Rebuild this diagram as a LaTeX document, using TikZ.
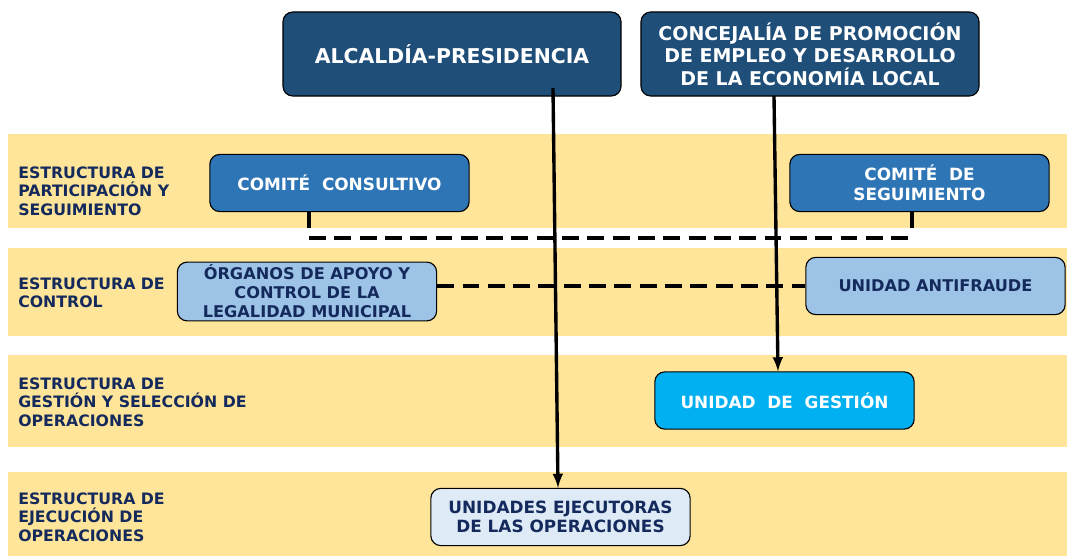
\documentclass[tikz,border=0pt]{standalone}
\usepackage{fontspec}
\setmainfont{DejaVu Sans}
\usetikzlibrary{arrows}
\definecolor{bandyellow}{HTML}{FFE599}
\definecolor{navybox}{HTML}{1F4E79}
\definecolor{midblue}{HTML}{2E75B6}
\definecolor{lightblue}{HTML}{9DC3E6}
\definecolor{cyanbox}{HTML}{00B0F0}
\definecolor{paleblue}{HTML}{DEEBF7}
\definecolor{navytext}{HTML}{152A5C}
\tikzset{box/.style={draw, thick, rounded corners=7pt, align=center, inner sep=2pt, font=\bfseries\fontsize{11.5}{13.5}\selectfont}}
\tikzset{topbox/.style={box, fill=navybox, text=white, minimum width=8.45cm, minimum height=2.1cm, font=\bfseries\fontsize{13.5}{16}\selectfont}}
\tikzset{unitbox/.style={box, minimum width=6.48cm, minimum height=1.43cm}}
\tikzset{bandlabel/.style={anchor=west, align=left, inner sep=0pt, text=navytext, font=\bfseries\fontsize{11.2}{13}\selectfont}}
\tikzset{dashline/.style={line width=3pt, dash pattern=on 12pt off 6pt}}

\begin{document}
\begin{tikzpicture}[x=0.025cm,y=-0.025cm]
  \useasboundingbox (0,0) rectangle (1067,556);
  \foreach \top/\bot in {
    134/228,
    248/336,
    355/447,
    472/556%
  } {
    \fill[bandyellow] (8,\top) rectangle (1067,\bot);
  }
  \node[bandlabel] (labpart) at (18,191) {ESTRUCTURA DE\\PARTICIPACIÓN Y\\SEGUIMIENTO};
  \node[bandlabel] (labcontrol) at (18,293) {ESTRUCTURA DE\\CONTROL};
  \node[bandlabel] (labgestion) at (18,402) {ESTRUCTURA DE\\GESTIÓN Y SELECCIÓN DE\\OPERACIONES};
  \node[bandlabel] (labejec) at (18,517) {ESTRUCTURA DE\\EJECUCIÓN DE\\OPERACIONES};

  \node[topbox, font=\bfseries\fontsize{14.5}{16}\selectfont] (alcaldia) at (452,54) {ALCALDÍA-PRESIDENCIA};
  \node[topbox] (concejalia) at (810,54) {CONCEJALÍA DE PROMOCIÓN\\DE EMPLEO Y DESARROLLO\\DE LA ECONOMÍA LOCAL};

  \node[unitbox, fill=midblue, text=white, font=\bfseries\fontsize{12}{14}\selectfont] (consultivo) at (339.5,183) {COMITÉ\ \ CONSULTIVO};
  \node[unitbox, fill=midblue, text=white, font=\bfseries\fontsize{12}{14}\selectfont] (seguimiento) at (919.5,183) {COMITÉ\ \ DE\\SEGUIMIENTO};
  \node[unitbox, fill=lightblue, text=navytext] (organos) at (307,291.5) {ÓRGANOS DE APOYO Y\\CONTROL DE LA\\LEGALIDAD MUNICIPAL};
  \node[unitbox, fill=lightblue, text=navytext] (antifraude) at (935.5,286) {UNIDAD ANTIFRAUDE};
  \node[unitbox, fill=cyanbox, text=white, font=\bfseries\fontsize{12}{14}\selectfont] (gestion) at (784.5,400.5) {UNIDAD\ \ DE\ \ GESTIÓN};
  \node[unitbox, fill=paleblue, text=navytext, font=\bfseries\fontsize{12}{14}\selectfont] (ejecutoras) at (560.5,517) {UNIDADES EJECUTORAS\\DE LAS OPERACIONES};

  % coordination lines
  \coordinate (cl) at (309,238);
  \coordinate (cr) at (912,238);
  \draw[line width=3pt] (consultivo.south -| cl) -- ++(0,16);
  \draw[line width=3pt] (seguimiento.south -| cr) -- ++(0,16);
  \draw[dashline] (cl) -- (cr);
  \draw[dashline] (organos.east |- antifraude.west) -- (antifraude.west);

  % hierarchy arrows
  \coordinate (a1) at (553,88);
  \coordinate (a2) at (774,96);
  \draw[line width=2.4pt, -latex] (a1) -- (ejecutoras.north -| 558,0);
  \draw[line width=2.4pt, -latex] (a2) -- (gestion.north -| 778,0);
\end{tikzpicture}
\end{document}
